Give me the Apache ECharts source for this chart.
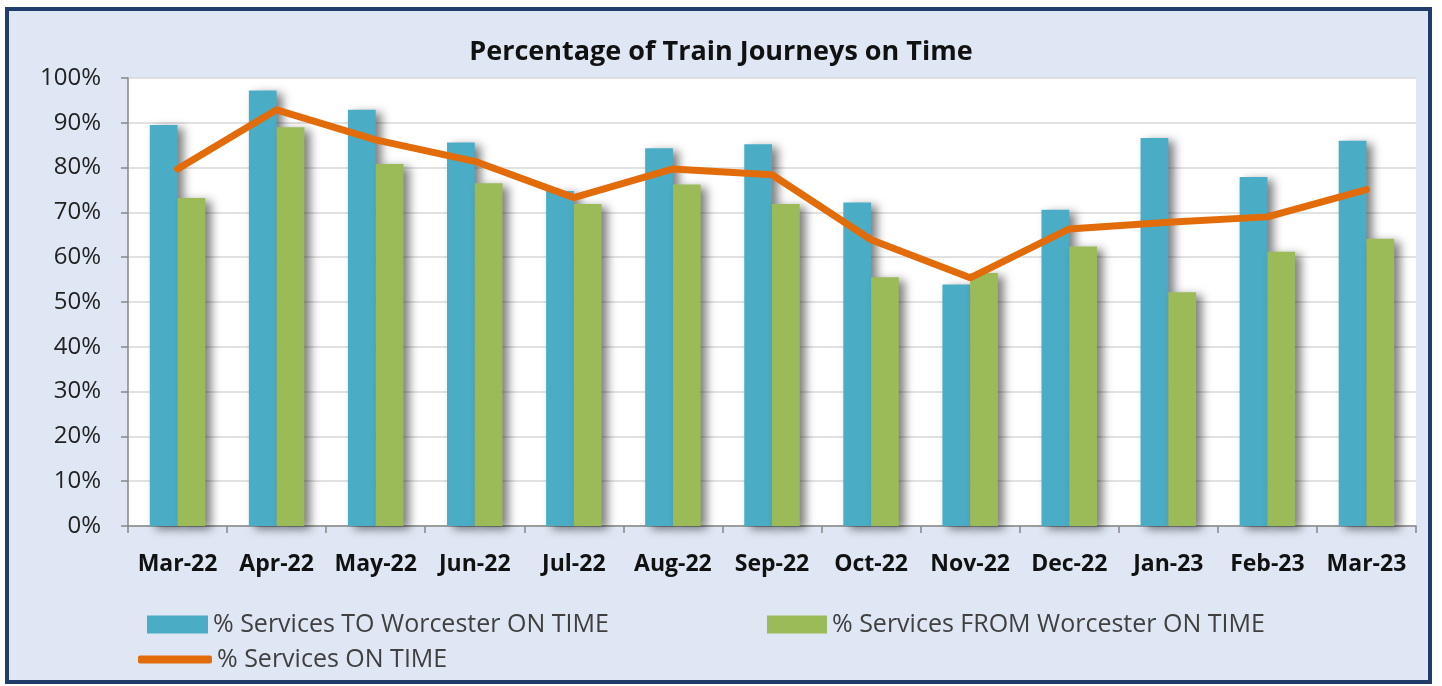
<!DOCTYPE html>
<html>
<head>
<meta charset="utf-8">
<script src="https://cdn.jsdelivr.net/npm/echarts@6/dist/echarts.min.js"></script>
<style>
html,body{margin:0;padding:0;background:#fff;}
#c{width:1442px;height:686px;}
</style>
</head>
<body>
<div id="c"></div>
<script>
const categories = ['Mar-22','Apr-22','May-22','Jun-22','Jul-22','Aug-22','Sep-22','Oct-22','Nov-22','Dec-22','Jan-23','Feb-23','Mar-23'];
const toWorcester = [89.5, 97.2, 92.9, 85.6, 74.8, 84.3, 85.2, 72.2, 53.9, 70.6, 86.6, 77.9, 86.0];
const fromWorcester = [73.2, 89.0, 80.8, 76.5, 71.9, 76.2, 71.9, 55.5, 56.5, 62.4, 52.2, 61.2, 64.1];
const allOnTime = [79.7, 92.9, 86.2, 81.4, 73.3, 79.7, 78.4, 63.9, 55.4, 66.3, 67.8, 69.0, 75.1];
const seriesNames = ['% Services TO Worcester ON TIME', '% Services FROM Worcester ON TIME', '% Services ON TIME'];
const titleText = 'Percentage of Train Journeys on Time';

const chart = echarts.init(document.getElementById('c'));
const font = '"Open Sans", "Noto Sans", sans-serif';
const barShadow = {shadowColor:'rgba(0,0,0,0.5)', shadowBlur:10, shadowOffsetX:6, shadowOffsetY:3};
const legendText = {fontFamily:font, fontSize:25, color:'#404040'};
chart.setOption({
  backgroundColor:'#ffffff',
  animation:false,
  graphic:[{
    type:'rect', z:-10, silent:true,
    shape:{x:7, y:9, width:1423, height:673},
    style:{fill:'#DEE7F3', stroke:'#1F3C6A', lineWidth:4}
  }],
  title:{
    text:titleText, left:'center', top:34,
    textStyle:{fontFamily:font, fontSize:27, fontWeight:'bold', color:'#111'}
  },
  legend:[
    {data:[seriesNames[0]], left:147, top:612, padding:0, itemWidth:61, itemHeight:18, itemGap:0, textStyle:legendText, icon:'rect'},
    {data:[seriesNames[1]], left:767, top:612, padding:0, itemWidth:60, itemHeight:18, itemGap:0, textStyle:legendText, icon:'rect'},
    {data:[seriesNames[2]], left:138, top:647, padding:0, itemWidth:74, itemHeight:8, itemGap:0, textStyle:legendText, icon:'roundRect',
     itemStyle:{color:'#E36C0A'}}
  ],
  grid:{left:128, right:26, top:78, bottom:160, show:true, backgroundColor:'#ffffff', borderWidth:0},
  xAxis:{
    type:'category', data:categories,
    axisLine:{lineStyle:{color:'#868686', width:1.5}},
    axisTick:{show:true, length:7, lineStyle:{color:'#868686', width:1.5}},
    axisLabel:{fontFamily:font, fontSize:23, fontWeight:'bold', color:'#111', margin:27, interval:0}
  },
  yAxis:{
    type:'value', min:0, max:100, interval:10,
    axisLine:{show:true, lineStyle:{color:'#868686', width:1.5}},
    axisTick:{show:true, length:7, lineStyle:{color:'#868686', width:1.5}},
    splitLine:{lineStyle:{color:'#D9D9D9', width:1.5}},
    axisLabel:{fontFamily:font, fontSize:24, color:'#222', margin:27, formatter:'{value}%'}
  },
  series:[
    {name:seriesNames[0], type:'bar', data:toWorcester, barGap:'0%', barCategoryGap:'44%',
     itemStyle:Object.assign({color:'#4BACC6'}, barShadow)},
    {name:seriesNames[1], type:'bar', data:fromWorcester,
     itemStyle:Object.assign({color:'#9BBB59'}, barShadow)},
    {name:seriesNames[2], type:'line', data:allOnTime, showSymbol:false, symbol:'none',
     lineStyle:{color:'#E36C0A', width:7, cap:'round', join:'round'}, itemStyle:{color:'#E36C0A'}, z:5}
  ]
});
</script>
</body>
</html>
